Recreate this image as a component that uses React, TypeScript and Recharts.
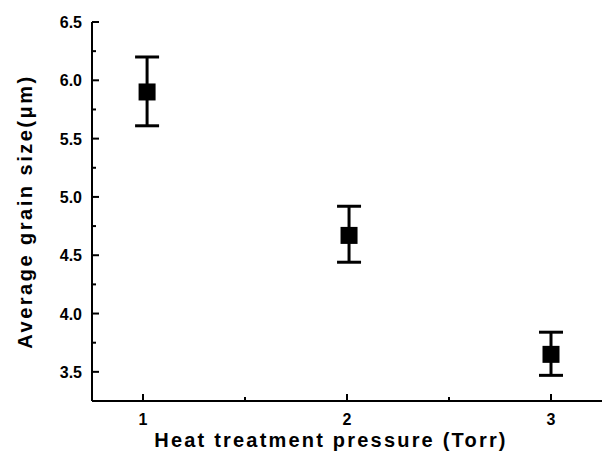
import React from "react";
import { ScatterChart, Scatter, XAxis, YAxis, ErrorBar } from "recharts";

// pressure (Torr) vs average grain size (um), with asymmetric error bars
const pressures = [1.02, 2.01, 3.0];
const grainSizes = [5.9, 4.67, 3.65];
const errLow = [0.29, 0.23, 0.18];
const errHigh = [0.3, 0.25, 0.19];

const xMajor = [1, 2, 3];
const xMinor = [1.5, 2.5];
const yMajor = [3.5, 4.0, 4.5, 5.0, 5.5, 6.0, 6.5];
const yMinor = [3.75, 4.25, 4.75, 5.25, 5.75, 6.25];

const data = pressures.map((p, i) => ({
  x: p,
  y: grainSizes[i],
  err: [errLow[i], errHigh[i]],
}));

const tickFont = {
  fontFamily: "'Liberation Sans', Arial, sans-serif",
  fontSize: 16,
  fontWeight: "bold",
  fill: "#000",
};
const MAJOR = 7;
const MINOR = 4;

const BottomTick = (props: any) => {
  const { x, y, payload } = props;
  const major = xMajor.includes(payload.value);
  return (
    <g>
      <line x1={x} x2={x} y1={y} y2={y - (major ? MAJOR : MINOR)} stroke="#000" strokeWidth={2} />
      {major && (
        <text x={x} y={y + 24} textAnchor="middle" {...tickFont}>
          {payload.value}
        </text>
      )}
    </g>
  );
};

const TopTick = (props: any) => {
  const { x, y, payload } = props;
  const major = xMajor.includes(payload.value);
  return <line x1={x} x2={x} y1={y} y2={y + (major ? MAJOR : MINOR)} stroke="#000" strokeWidth={2} />;
};

const LeftTick = (props: any) => {
  const { x, y, payload } = props;
  const major = yMajor.includes(payload.value);
  return (
    <g>
      <line x1={x} x2={x + (major ? MAJOR : MINOR)} y1={y} y2={y} stroke="#000" strokeWidth={2} />
      {major && (
        <text x={x - 10} y={y + 6} textAnchor="end" {...tickFont}>
          {payload.value.toFixed(1)}
        </text>
      )}
    </g>
  );
};

const RightTick = (props: any) => {
  const { x, y, payload } = props;
  const major = yMajor.includes(payload.value);
  return <line x1={x} x2={x - (major ? MAJOR : MINOR)} y1={y} y2={y} stroke="#000" strokeWidth={2} />;
};

const SquareMark = (props: any) => {
  const { cx, cy } = props;
  return <rect x={cx - 8.5} y={cy - 8.5} width={17} height={17} fill="#000" />;
};

const titleStyle = {
  fontFamily: "'Liberation Sans', Arial, sans-serif",
  fontSize: 20,
  fontWeight: "bold",
  fill: "#000",
};

export default function App() {
  const xTicks = [...xMajor, ...xMinor];
  const yTicks = [...yMajor, ...yMinor];
  return (
    <div style={{ position: "absolute", left: 0, top: 0, background: "#fff" }}>
      <ScatterChart width={609} height={460} margin={{ top: 22, right: 7, bottom: 0, left: 0 }}>
        <XAxis
          xAxisId="t"
          orientation="top"
          type="number"
          dataKey="x"
          domain={[0.75, 3.25]}
          ticks={xTicks}
          interval={0}
          height={0}
          tickSize={0}
          tickMargin={0}
          tickLine={false}
          tick={TopTick}
          axisLine={{ stroke: "#000", strokeWidth: 2 }}
        />
        <XAxis
          type="number"
          dataKey="x"
          domain={[0.75, 3.25]}
          ticks={xTicks}
          interval={0}
          height={59}
          tickSize={0}
          tickMargin={0}
          tickLine={false}
          tick={BottomTick}
          axisLine={{ stroke: "#000", strokeWidth: 2 }}
          label={{
            value: "Heat treatment pressure (Torr)",
            position: "insideBottom",
            offset: 13,
            dx: -16,
            style: { ...titleStyle, letterSpacing: 2.2 },
          }}
        />
        <YAxis
          type="number"
          dataKey="y"
          domain={[3.25, 6.5]}
          ticks={yTicks}
          interval={0}
          width={92}
          tickSize={0}
          tickMargin={0}
          tickLine={false}
          tick={LeftTick}
          axisLine={{ stroke: "#000", strokeWidth: 2 }}
          label={{
            value: "Average grain size(μm)",
            angle: -90,
            position: "insideLeft",
            offset: 25,
            style: { ...titleStyle, letterSpacing: 2.5, textAnchor: "middle" },
          }}
        />
        <YAxis
          yAxisId="r"
          orientation="right"
          type="number"
          domain={[3.25, 6.5]}
          ticks={yTicks}
          interval={0}
          width={0}
          tickSize={0}
          tickMargin={0}
          tickLine={false}
          tick={RightTick}
          axisLine={{ stroke: "#000", strokeWidth: 2 }}
        />
        <Scatter data={data} dataKey="y" fill="#000" shape={SquareMark} isAnimationActive={false}>
          <ErrorBar
            dataKey="err"
            direction="y"
            width={12}
            stroke="#000"
            strokeWidth={3}
            isAnimationActive={false}
          />
        </Scatter>
      </ScatterChart>
    </div>
  );
}
